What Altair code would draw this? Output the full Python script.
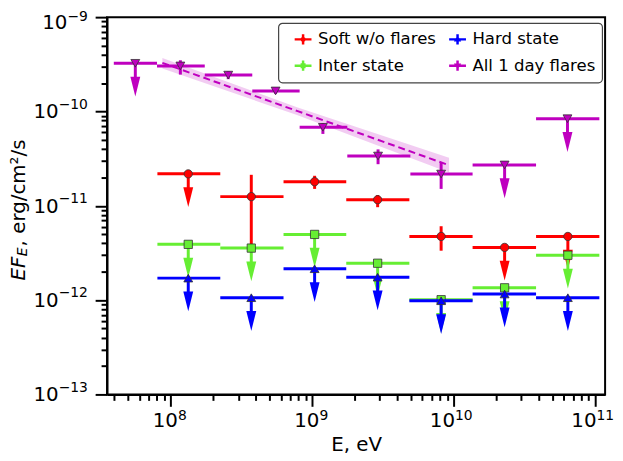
import altair as alt
import pandas as pd

FONT = "DejaVu Sans"

# ---------------- data ----------------
# energy bins of the three "state" spectra (eV)
bin_c = [1.33e8, 3.71e8, 1.04e9, 2.90e9, 8.15e9, 2.29e10, 6.41e10]
bin_lo = [8.05e7, 2.24e8, 6.27e8, 1.74e9, 4.86e9, 1.36e10, 3.82e10]
bin_hi = [2.24e8, 6.27e8, 1.74e9, 4.86e9, 1.36e10, 3.82e10, 1.07e11]

soft_f = [2.18e-11, 1.25e-11, 1.80e-11, 1.16e-11, 4.73e-12, 3.62e-12, 4.73e-12]
soft_lo = [None, 3.56e-12, 1.51e-11, 9.66e-12, 3.34e-12, None, None]
soft_hi = [None, 2.13e-11, 2.08e-11, 1.30e-11, 6.07e-12, None, None]
soft_ul = [True, False, False, False, False, True, True]

inter_f = [3.90e-12, 3.56e-12, 4.97e-12, 2.46e-12, 1.01e-12, 1.35e-12, 2.99e-12]
inter_ul = [True, True, True, True, True, True, True]

hard_f = [1.71e-12, 1.06e-12, 2.15e-12, 1.75e-12, 9.84e-13, 1.16e-12, 1.06e-12]
hard_ul = [True, True, True, True, True, True, True]

# "All 1 day flares" spectrum
flare_c = [5.62e7, 1.17e8, 2.55e8, 5.51e8, 1.19e9, 2.92e9, 8.15e9, 2.29e10, 6.37e10]
flare_lo_e = [3.96e7, 8.0e7, 1.74e8, 3.77e8, 8.15e8, 1.77e9, 4.94e9, 1.36e10, 3.82e10]
flare_hi_e = [8.0e7, 1.74e8, 3.77e8, 8.15e8, 1.77e9, 4.94e9, 1.36e10, 3.82e10, 1.07e11]
flare_f = [3.24e-10, 3.04e-10, 2.43e-10, 1.65e-10, 6.79e-11, 3.37e-11, 2.17e-11, 2.71e-11, 8.38e-11]
flare_lo = [None, 2.46e-10, 2.20e-10, 1.54e-10, 5.78e-11, 2.76e-11, 1.51e-11, None, None]
flare_hi = [None, 3.49e-10, 2.68e-10, 1.77e-10, 7.53e-11, 3.96e-11, 2.86e-11, None, None]
flare_ul = [True, False, False, False, False, False, False, True, True]

# power-law fit to the flare spectrum with its uncertainty band
fit_e = [8.73e7, 7.8e8, 9.27e9]
fit_f = [3.27e-10, 1.014e-10, 2.69e-11]
fit_lo = [2.85e-10, 9.18e-11, 2.25e-11]
fit_hi = [3.69e-10, 1.11e-10, 3.24e-11]

# legend order (filled column by column)
series_names = ["Soft w/o flares", "Inter state", "Hard state", "All 1 day flares"]
series_colors = ["#ff0000", "#66ee33", "#0000ff", "#bf00bf"]

# tick labels: 10 with a superscript exponent
x_major = [1e8, 1e9, 1e10, 1e11]
x_major_exp = ["8", "9", "10", "11"]
y_major = [1e-13, 1e-12, 1e-11, 1e-10, 1e-9]
y_major_exp = ["−13", "−12", "−11", "−10", "−9"]
x_minor = [k * 10.0 ** p for p in range(7, 11) for k in range(2, 10) if 3.6e7 < k * 10.0 ** p < 1.17e11]
y_minor = [k * 10.0 ** p for p in range(-13, -9) for k in range(2, 10)]

# ---------------- helpers ----------------
xs = alt.Scale(type="log", domain=[3.546e7, 1.175e11], nice=False)
ys = alt.Scale(type="log", domain=[1e-13, 1e-9], nice=False)

AX = dict(tickColor="black", tickWidth=2, grid=False, labels=False, title=None)
major_x = alt.Axis(orient="bottom", values=x_major, tickSize=12, domainColor="black",
                   domainWidth=2, **AX)
minor_x = alt.Axis(orient="bottom", values=x_minor, tickSize=6, domain=False, **AX)
major_y = alt.Axis(orient="left", values=y_major, tickSize=12, domainColor="black",
                   domainWidth=2, **AX)
minor_y = alt.Axis(orient="left", values=y_minor, tickSize=6, domain=False, **AX)


def X(f, axis=None):
    return alt.X(f, type="quantitative", scale=xs, axis=axis)


def Y(f, axis=None):
    return alt.Y(f, type="quantitative", scale=ys, axis=axis)


ARROW = "M-0.5,-1L0.5,-1L0,1Z"
SHAFT_DEX = 0.2
HEAD_DEX = 0.247


def frame(e, elo, ehi, f, flo, fhi, ul):
    return pd.DataFrame({"e": e, "elo": elo, "ehi": ehi, "f": f,
                         "flo": pd.array(flo, dtype="Float64").astype(float),
                         "fhi": pd.array(fhi, dtype="Float64").astype(float),
                         "ul": ul})


def series_layers(df, color, shape, size):
    base = alt.Chart(df)
    return [
        base.mark_rule(color=color, strokeWidth=3).encode(x=X("elo"), x2="ehi:Q", y=Y("f")),
        base.transform_filter("isValid(datum.flo) && isFinite(datum.flo)")
        .mark_rule(color=color, strokeWidth=3).encode(x=X("e"), y=Y("flo"), y2="fhi:Q"),
        base.transform_filter("datum.ul")
        .transform_calculate(tip=f"datum.f * pow(10, -{SHAFT_DEX})")
        .mark_rule(color=color, strokeWidth=3).encode(x=X("e"), y=Y("f"), y2="tip:Q"),
        base.transform_filter("datum.ul")
        .transform_calculate(hc=f"datum.f * pow(10, -{HEAD_DEX})")
        .mark_point(shape=ARROW, size=400, filled=True, fill=color, strokeWidth=0, opacity=1)
        .encode(x=X("e"), y=Y("hc:Q")),
        base.mark_point(shape=shape, size=size, filled=True, fill=color, stroke="#333333",
                        strokeWidth=0.8, opacity=1).encode(x=X("e"), y=Y("f")),
    ]


none_list = [None] * len(bin_c)
soft_df = frame(bin_c, bin_lo, bin_hi, soft_f, soft_lo, soft_hi, soft_ul)
inter_df = frame(bin_c, bin_lo, bin_hi, inter_f, none_list, none_list, inter_ul)
hard_df = frame(bin_c, bin_lo, bin_hi, hard_f, none_list, none_list, hard_ul)
flare_df = frame(flare_c, flare_lo_e, flare_hi_e, flare_f, flare_lo, flare_hi, flare_ul)
fit_df = pd.DataFrame({"e": fit_e, "f": fit_f, "lo": fit_lo, "hi": fit_hi})

layers = [
    alt.Chart(fit_df).mark_area(color="#bf00bf", opacity=0.2)
    .encode(x=X("e", major_x), y=Y("lo", major_y), y2="hi:Q"),
    alt.Chart(fit_df).mark_line(color="#bf00bf", strokeDash=[7, 4], strokeWidth=2)
    .encode(x=X("e", minor_x), y=Y("f", minor_y)),
]
layers += series_layers(soft_df, "#ff0000", "circle", 70)
layers += series_layers(inter_df, "#66ee33", "square", 70)
layers += series_layers(hard_df, "#0000ff", "triangle-up", 80)
layers += series_layers(flare_df, "#bf00bf", "triangle-down", 80)

# legend (symbols: error-bar cross with a small marker)
legend_paths = [
    "M-1,0L1,0M0,-0.6L0,0.6M0.15,0A0.15,0.15,0,1,1,-0.15,0A0.15,0.15,0,1,1,0.15,0Z",
    "M-1,0L1,0M0,-0.6L0,0.6M-0.15,-0.15L0.15,-0.15L0.15,0.15L-0.15,0.15Z",
    "M-1,0L1,0M0,-0.6L0,0.6M0,-0.2L0.18,0.12L-0.18,0.12Z",
    "M-1,0L1,0M0,-0.6L0,0.6M0,0.2L0.18,-0.12L-0.18,-0.12Z",
]
leg = alt.Legend(orient="none", legendX=173, legendY=6, columns=2, title=None,
                 labelFont=FONT, labelFontSize=16.7, labelColor="black", labelOffset=5,
                 symbolSize=289, symbolStrokeWidth=2.5, symbolOffset=9,
                 rowPadding=5, columnPadding=2)
leg_df = pd.DataFrame({"series": series_names})
layers.append(
    alt.Chart(leg_df).transform_filter("false")
    .mark_point(filled=False, strokeWidth=2.5, opacity=1)
    .encode(color=alt.Color("series:N", scale=alt.Scale(domain=series_names, range=series_colors), legend=leg),
            shape=alt.Shape("series:N", scale=alt.Scale(domain=series_names, range=legend_paths), legend=leg))
)

# ---------------- tick labels (10 + raised exponent, like mathtext) ----------------
MAIN, SUP = 20, 14
W_DIGIT, W_MINUS = 0.636, 0.838


def txt(df, **kw):
    return alt.Chart(df).mark_text(font=FONT, color="black", baseline="alphabetic", **kw)


xl = pd.DataFrame({"v": x_major, "exp": x_major_exp})
for n, extra in ((1, 1), (2, 2.5)):
    g = xl[xl["exp"].str.len() == n]
    total = 2 * W_DIGIT * MAIN + n * W_DIGIT * SUP
    left = -total / 2 - extra
    layers += [
        txt(g, text="10", fontSize=MAIN, align="left", dx=left)
        .encode(x=X("v"), y=alt.value(413.5)),
        txt(g, align="left", fontSize=SUP, dx=left + 2 * W_DIGIT * MAIN)
        .encode(x=X("v"), y=alt.value(407), text="exp:N"),
    ]

yl = pd.DataFrame({"v": y_major, "exp": y_major_exp})
EXP_RIGHT = -19.3
for n, dy_main, dy_sup in ((3, 7, -2.9), (2, 11.5, 4)):
    g = yl[yl["exp"].str.len() == n]
    wexp = (W_MINUS + (n - 1) * W_DIGIT) * SUP
    layers += [
        txt(g, text="10", fontSize=MAIN, align="right", dy=dy_main)
        .encode(y=Y("v"), x=alt.value(EXP_RIGHT - wexp)),
        txt(g, fontSize=SUP, align="right", dy=dy_sup)
        .encode(y=Y("v"), x=alt.value(EXP_RIGHT), text="exp:N"),
    ]

# axis titles
dummy = pd.DataFrame({"a": [0]})
layers += [
    txt(dummy, text="E, eV", fontSize=20, align="center").encode(x=alt.value(252), y=alt.value(438)),
    txt(dummy, text="EF", fontSize=20, fontStyle="italic", angle=270, align="left")
    .encode(x=alt.value(-83), y=alt.value(266)),
    txt(dummy, text="E", fontSize=14, fontStyle="italic", angle=270, align="left")
    .encode(x=alt.value(-81), y=alt.value(241.5)),
    txt(dummy, text=", erg/cm²/s", fontSize=20, angle=270, align="left")
    .encode(x=alt.value(-83), y=alt.value(231.5)),
]

chart = (
    alt.layer(*layers)
    .resolve_axis(x="independent", y="independent")
    .properties(width=503, height=381, autosize=alt.AutoSizeParams(type="none"),
                padding={"left": 100, "top": 7, "right": 10, "bottom": 64})
    .configure_view(stroke="black", strokeWidth=2)
    .configure_legend(strokeColor="#444444", strokeWidth=1.2, cornerRadius=4, padding=6,
                      fillColor="white")
)

chart.save("out.html", embed_options={"renderer": "svg", "actions": False})
